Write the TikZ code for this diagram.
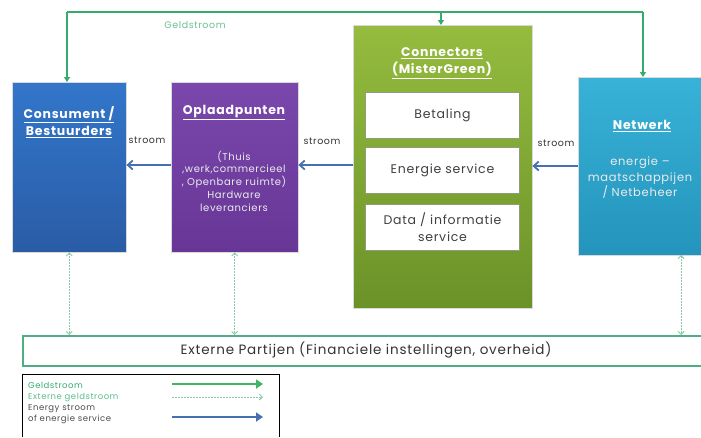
\documentclass[tikz,border=0pt]{standalone}
\usepackage{fontspec}
\setmainfont{Poppins}
\newfontfamily\spacedfont[LetterSpace=6]{Poppins}
\usetikzlibrary{arrows.meta}
\definecolor{geldgreen}{HTML}{35AC6C}
\definecolor{extgreen}{HTML}{8CC8A8}
\definecolor{stroomblue}{HTML}{4670B0}
\definecolor{consTop}{HTML}{3276CA}
\definecolor{consBot}{HTML}{2A5CA6}
\definecolor{oplTop}{HTML}{7A48AC}
\definecolor{oplBot}{HTML}{683696}
\definecolor{connTop}{HTML}{95BC3E}
\definecolor{connBot}{HTML}{6B9228}
\definecolor{netTop}{HTML}{38B2D8}
\definecolor{netBot}{HTML}{2494BC}
\definecolor{inner}{HTML}{404040}
\definecolor{innerborder}{HTML}{8E9E7A}
\definecolor{extborder}{HTML}{4EAE86}
\tikzset{
  bigbox/.style={rectangle, anchor=north west, inner sep=0pt, draw=white!85!black, line width=0.4pt},
  innerbox/.style={rectangle, anchor=north west, inner sep=0pt, fill=white, draw=innerborder, line width=1pt,
    minimum width=154pt, minimum height=46pt, text=inner, font=\spacedfont\fontsize{12.5}{17}\selectfont, align=center},
  title/.style={text=white, font=\spacedfont\bfseries\fontsize{12.5}{17.5}\selectfont, align=center, inner sep=0pt},
  body/.style={text=white!92!black, font=\spacedfont\fontsize{10}{12.8}\selectfont, align=center, inner sep=0pt},
  netbody/.style={text=white!92!black, font=\spacedfont\fontsize{11.5}{15.5}\selectfont, align=center, inner sep=0pt},
  lbl/.style={text=black!80, font=\spacedfont\fontsize{9.5}{12}\selectfont, inner sep=0pt},
  geld/.style={draw=geldgreen, line width=1.8pt},
  geldarrow/.style={geld, -{Triangle[length=5pt,width=6pt]}},
  ext/.style={draw=extgreen, line width=0.9pt, dash pattern=on 1.5pt off 1.5pt, {Straight Barb[length=3pt,width=6pt]}-{Straight Barb[length=3pt,width=6pt]}},
  stroom/.style={draw=stroomblue, line width=1.8pt, -{Straight Barb[length=5pt,width=9pt]}},
  leg/.style={font=\spacedfont\fontsize{8.5}{11}\selectfont, inner sep=0pt, anchor=west, align=left}
}
\begin{document}
\begin{tikzpicture}[x=1pt,y=-1pt]
\useasboundingbox (0,0) rectangle (701,437);

% main boxes
\node[bigbox, minimum width=114pt, minimum height=170pt, top color=consTop, bottom color=consBot] (cons) at (12,82) {};
\node[bigbox, minimum width=127pt, minimum height=170pt, top color=oplTop, bottom color=oplBot] (opl) at (171,82) {};
\node[bigbox, minimum width=179pt, minimum height=283pt, top color=connTop, bottom color=connBot] (conn) at (353,25) {};
\node[bigbox, minimum width=124pt, minimum height=178pt, top color=netTop, bottom color=netBot] (net) at (578,77) {};

% titles and texts
\node[title] (constitle) at (69,122) {\underline{Consument /}\\\underline{Bestuurders}};
\node[title] (opltitle) at (234,113) {\underline{Oplaadpunten}};
\node[body] (opltext) at (234,181) {(Thuis\\,werk,commercieel\\, Openbare ruimte)\\Hardware\\leveranciers};
\node[title] (conntitle) at (442,63) {\underline{Connectors}\\\underline{(MisterGreen)}};
\node[title] (nettitle) at (642,126) {\underline{Netwerk}};
\node[netbody] (nettext) at (640,178) {energie –\\maatschappijen\\/ Netbeheer};

% inner boxes
\node[innerbox] (bet) at (365,92) {Betaling};
\node[innerbox] (energ) at (365,147) {Energie service};
\node[innerbox] (data) at (365,204) {Data / informatie\\service};

% external parties
\node[rectangle, anchor=north west, draw=extborder, line width=1.6pt, fill=white, minimum width=690pt, minimum height=30pt, inner sep=0pt] (ext) at (22,335) {};
\node[inner sep=0pt, font=\spacedfont\fontsize{13.5}{15}\selectfont, text=black!80] (exttext) at (366,350) {Externe Partijen (Financiele instellingen, overheid)};

% money flow on top
\coordinate (jl) at (67,12);
\coordinate (jr) at (643,12);
\coordinate (jm) at (441,12);
\draw[geld] (jl) -- (jr);
\draw[geldarrow] (jl) -- (cons.north -| jl);
\draw[geldarrow] (jm) -- (conn.north -| jm);
\draw[geldarrow] (jr) -- (net.north -| jr);
\node[text=geldgreen!75, font=\spacedfont\fontsize{9.5}{12}\selectfont, inner sep=0pt] (geldlbl) at (195,25) {Geldstroom};

% energy flows
\draw[stroom] (net.west |- 0,166) -- (conn.east |- 0,166);
\draw[stroom] (conn.west |- 0,165) -- (opl.east |- 0,165);
\draw[stroom] (opl.west |- 0,165) -- (cons.east |- 0,165);
\node[lbl] (s1) at (147,140) {stroom};
\node[lbl] (s2) at (322,141) {stroom};
\node[lbl] (s3) at (556,143) {stroom};

% external dotted flows
\coordinate (nd) at (681,255);
\draw[ext] (cons.south) -- (ext.north -| cons.south);
\draw[ext] (opl.south) -- (ext.north -| opl.south);
\draw[ext] (nd) -- (ext.north -| nd);

% legend
\node[inner sep=0pt, minimum width=257pt, minimum height=63pt, anchor=north west] (legend) at (22,374) {};
\draw[black, line width=1pt] (legend.south west) -- (legend.north west) -- (legend.north east) -- (legend.south east);
\node[leg, text=geldgreen] (l1) at (28,385) {Geldstroom};
\node[leg, text=geldgreen!80] (l2) at (28,397) {Externe geldstroom};
\node[leg, text=black!70] (l3) at (28,414) {Energy stroom\\of energie service};
\coordinate (a1s) at (172,384); \coordinate (a1e) at (263,384);
\coordinate (a2s) at (172,397); \coordinate (a2e) at (263,397);
\coordinate (a3s) at (172,417); \coordinate (a3e) at (263,417);
\draw[draw=geldgreen!90!lime, line width=1.8pt, -{Triangle[length=7pt,width=9pt]}] (a1s) -- (a1e);
\draw[draw=extgreen, line width=0.9pt, dash pattern=on 1.5pt off 1.5pt, -{Straight Barb[length=3pt,width=6pt]}] (a2s) -- (a2e);
\draw[draw=stroomblue, line width=1.8pt, -{Triangle[length=7pt,width=9pt]}] (a3s) -- (a3e);
\end{tikzpicture}
\end{document}
